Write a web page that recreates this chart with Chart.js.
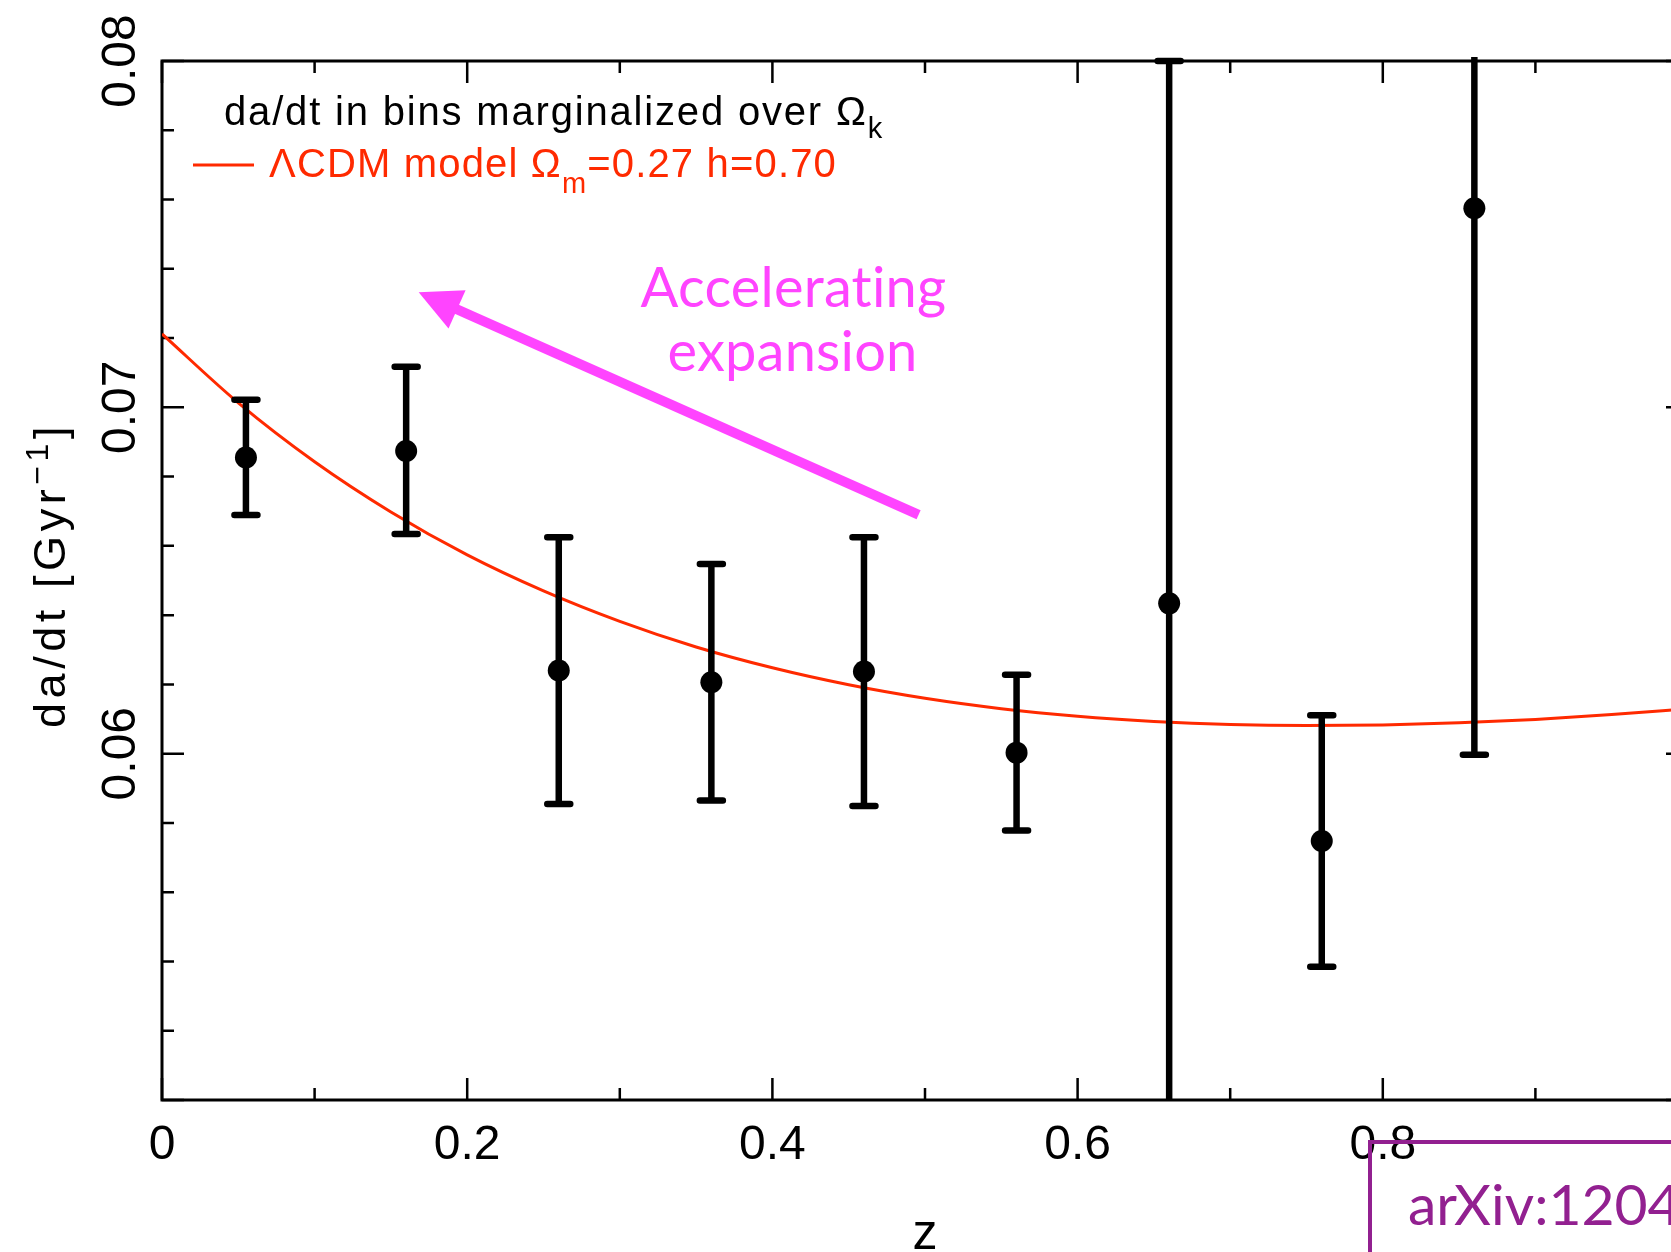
<!DOCTYPE html>
<html>
<head>
<meta charset="utf-8">
<script src="https://cdn.jsdelivr.net/npm/chart.js@4.4.1/dist/chart.umd.min.js"></script>
<style>
  html, body { margin: 0; padding: 0; background: #fff; overflow: hidden; }
  #wrap { width: 1671px; height: 1252px; overflow: hidden; }
  canvas { display: block; }
</style>
</head>
<body>
<div id="wrap"><canvas id="dadt" width="1740" height="1252"></canvas></div>
<script>
// da/dt measured in redshift bins, with error bar ends
const binZ    = [0.055, 0.16, 0.26, 0.36, 0.46, 0.56, 0.66, 0.76, 0.86];
const binRate = [0.06855, 0.06874, 0.06240, 0.06206, 0.06237, 0.06003, 0.06434, 0.05748, 0.07575];
const binHigh = [0.07022, 0.07117, 0.06625, 0.06548, 0.06625, 0.06228, 0.08000, 0.06111, 0.09000];
const binLow  = [0.06689, 0.06634, 0.05855, 0.05865, 0.05849, 0.05778, 0.04000, 0.05385, 0.05997];

// LCDM reference curve
const modelZ    = [0, 0.05, 0.1, 0.15, 0.2, 0.25, 0.3, 0.35, 0.4, 0.45, 0.5,
                   0.55, 0.6, 0.65, 0.7, 0.75, 0.8, 0.85, 0.9, 0.95, 1.0];
const modelRate = [0.07212, 0.07013, 0.06843, 0.06698, 0.06574, 0.06470, 0.06382, 0.06308,
                   0.06248, 0.06199, 0.06160, 0.06130, 0.06108, 0.06093, 0.06084, 0.06081,
                   0.06083, 0.06089, 0.06099, 0.06113, 0.06130];

const xTickValues = [0, 0.2, 0.4, 0.6, 0.8];
const xTickLabels = ['0', '0.2', '0.4', '0.6', '0.8'];
const yTickValues = [0.06, 0.07, 0.08];
const yTickLabels = ['0.06', '0.07', '0.08'];

// arrow: [z, da/dt] of tail and head
const arrowTail = [0.4958, 0.06690];
const arrowTip  = [0.1682, 0.07332];

const RED = '#ff2a00';
const PINK = '#ff44ff';
const PURPLE = '#922090';
const TICK_FONT = '"Liberation Sans", Arial, sans-serif';
const SANS = 'Lato, "Open Sans", sans-serif';

function onStep(v, step) {
  const r = v / step;
  return Math.abs(r - Math.round(r)) < 1e-6;
}

// draws a run of text pieces (with sub/superscripts), spread to a given width
function richText(ctx, parts, x, y, width) {
  let w0 = 0, n = 0;
  parts.forEach(p => {
    ctx.font = p.size + 'px ' + (p.family || TICK_FONT);
    ctx.letterSpacing = '0px';
    p.w = ctx.measureText(p.t).width;
    w0 += p.w;
    n += p.t.length;
  });
  const sp = width ? (width - w0) / n : 0;
  let cx = x;
  parts.forEach(p => {
    ctx.font = p.size + 'px ' + (p.family || TICK_FONT);
    ctx.letterSpacing = sp + 'px';
    ctx.fillText(p.t, cx, y + (p.dy || 0));
    cx += p.w + sp * p.t.length;
  });
  ctx.letterSpacing = '0px';
}

const framePlugin = {
  id: 'frame',
  beforeDatasetsDraw(chart) {
    const { ctx, chartArea: a, scales: { x, y } } = chart;
    ctx.save();
    ctx.strokeStyle = '#000';
    ctx.lineWidth = 2.5;
    x.ticks.forEach(t => {
      const len = onStep(t.value, 0.2) ? 22 : 12;
      const px = x.getPixelForValue(t.value);
      ctx.beginPath();
      ctx.moveTo(px, a.bottom); ctx.lineTo(px, a.bottom - len);
      ctx.moveTo(px, a.top); ctx.lineTo(px, a.top + len);
      ctx.stroke();
    });
    y.ticks.forEach(t => {
      const len = onStep(t.value, 0.01) ? 22 : 12;
      const py = y.getPixelForValue(t.value);
      ctx.beginPath();
      ctx.moveTo(a.left, py); ctx.lineTo(a.left + len, py);
      ctx.moveTo(a.right, py); ctx.lineTo(a.right - len, py);
      ctx.stroke();
    });
    ctx.lineWidth = 3;
    ctx.strokeRect(a.left, a.top, a.right - a.left, a.bottom - a.top);
    ctx.restore();
  }
};

const errorBarPlugin = {
  id: 'errorBars',
  afterDatasetsDraw(chart) {
    const { ctx, chartArea: a, scales: { x, y } } = chart;
    ctx.save();
    ctx.beginPath();
    ctx.rect(a.left - 30, a.top - 4, a.right - a.left + 60, a.bottom - a.top + 5);
    ctx.clip();
    ctx.strokeStyle = '#000';
    binZ.forEach((z, i) => {
      const px = x.getPixelForValue(z);
      const hi = y.getPixelForValue(binHigh[i]);
      const lo = y.getPixelForValue(binLow[i]);
      ctx.lineWidth = 6.5;
      ctx.lineCap = 'butt';
      ctx.beginPath();
      ctx.moveTo(px, hi); ctx.lineTo(px, lo);
      ctx.stroke();
      ctx.lineCap = 'round';
      ctx.beginPath();
      ctx.moveTo(px - 11.5, hi); ctx.lineTo(px + 11.5, hi);
      ctx.moveTo(px - 11.5, lo); ctx.lineTo(px + 11.5, lo);
      ctx.stroke();
    });
    ctx.restore();
  }
};

const labelPlugin = {
  id: 'labels',
  afterDraw(chart) {
    const { ctx, chartArea: a, scales: { x, y } } = chart;
    ctx.save();
    ctx.fillStyle = '#000';
    ctx.textBaseline = 'alphabetic';

    // tick labels
    ctx.font = '48px ' + TICK_FONT;
    ctx.textAlign = 'center';
    xTickValues.forEach((v, i) => {
      ctx.fillText(xTickLabels[i], x.getPixelForValue(v), a.bottom + 59);
    });
    yTickValues.forEach((v, i) => {
      ctx.save();
      ctx.translate(a.left - 27, y.getPixelForValue(v));
      ctx.rotate(-Math.PI / 2);
      ctx.fillText(yTickLabels[i], 0, 0);
      ctx.restore();
    });

    // axis titles
    ctx.font = '50px ' + TICK_FONT;
    ctx.fillText('z', x.getPixelForValue(0.5), a.bottom + 149);
    ctx.save();
    ctx.translate(a.left - 97, 728);
    ctx.rotate(-Math.PI / 2);
    ctx.textAlign = 'left';
    richText(ctx, [
      { t: 'da/dt [Gyr', size: 45 },
      { t: '\u22121', size: 32, dy: -17 },
      { t: ']', size: 45 }
    ], 0, 0, 306);
    ctx.restore();

    // legend
    ctx.textAlign = 'left';
    richText(ctx, [
      { t: 'da/dt in bins marginalized over \u03a9', size: 40 },
      { t: 'k', size: 29, dy: 13 }
    ], a.left + 62, a.top + 64, 660);
    ctx.strokeStyle = RED;
    ctx.lineWidth = 3;
    ctx.beginPath();
    ctx.moveTo(a.left + 31, a.top + 104);
    ctx.lineTo(a.left + 92, a.top + 104);
    ctx.stroke();
    ctx.fillStyle = RED;
    richText(ctx, [
      { t: '\u039bCDM model \u03a9', size: 40 },
      { t: 'm', size: 29, dy: 16 },
      { t: '=0.27 h=0.70', size: 40 }
    ], a.left + 107, a.top + 116, 568);

    // annotation
    ctx.fillStyle = PINK;
    ctx.textAlign = 'center';
    ctx.font = '56px ' + SANS;
    ctx.letterSpacing = '0.2px';
    ctx.fillText('Accelerating', x.getPixelForValue(0.4138), y.getPixelForValue(0.07290));
    ctx.fillText('expansion', x.getPixelForValue(0.4132), y.getPixelForValue(0.07105));
    ctx.letterSpacing = '0px';

    const tx = x.getPixelForValue(arrowTail[0]), ty = y.getPixelForValue(arrowTail[1]);
    const hx = x.getPixelForValue(arrowTip[0]), hy = y.getPixelForValue(arrowTip[1]);
    const d = Math.hypot(hx - tx, hy - ty);
    const ux = (hx - tx) / d, uy = (hy - ty) / d;
    const bx = hx - ux * 42, by = hy - uy * 42;
    ctx.strokeStyle = PINK;
    ctx.lineWidth = 10;
    ctx.lineCap = 'butt';
    ctx.beginPath();
    ctx.moveTo(tx, ty);
    ctx.lineTo(bx + ux * 4, by + uy * 4);
    ctx.stroke();
    ctx.beginPath();
    ctx.moveTo(hx, hy);
    ctx.lineTo(bx - uy * 21, by + ux * 21);
    ctx.lineTo(bx + uy * 21, by - ux * 21);
    ctx.closePath();
    ctx.fill();

    // paper reference box
    ctx.strokeStyle = PURPLE;
    ctx.lineWidth = 4;
    ctx.strokeRect(1370, 1142, 500, 300);
    ctx.fillStyle = PURPLE;
    ctx.textAlign = 'left';
    ctx.font = '57px ' + SANS;
    ctx.fillText('arXiv:1204', 1408, 1225);
    ctx.restore();
  }
};

const ctx = document.getElementById('dadt').getContext('2d');
const chart = new Chart(ctx, {
  type: 'scatter',
  data: {
    datasets: [
      {
        label: 'da/dt in bins',
        data: binZ.map((z, i) => ({ x: z, y: binRate[i] })),
        pointRadius: 11,
        pointBackgroundColor: '#000',
        pointBorderWidth: 0,
        order: 0
      },
      {
        type: 'line',
        label: 'LCDM',
        data: modelZ.map((z, i) => ({ x: z, y: modelRate[i] })),
        borderColor: RED,
        borderWidth: 3,
        pointRadius: 0,
        fill: false,
        cubicInterpolationMode: 'monotone',
        order: 1
      }
    ]
  },
  options: {
    responsive: false,
    animation: false,
    devicePixelRatio: 1,
    layout: { padding: { top: 61, right: 52, left: 0, bottom: 0 } },
    plugins: { legend: { display: false }, tooltip: { enabled: false } },
    scales: {
      x: {
        type: 'linear', min: 0, max: 1,
        ticks: { display: false, stepSize: 0.1 },
        grid: { display: false },
        border: { display: false },
        afterFit: s => { s.height = 152; }
      },
      y: {
        type: 'linear', min: 0.05, max: 0.08,
        ticks: { display: false, stepSize: 0.002 },
        grid: { display: false },
        border: { display: false },
        afterFit: s => { s.width = 162; }
      }
    }
  },
  plugins: [framePlugin, errorBarPlugin, labelPlugin]
});
</script>
</body>
</html>
